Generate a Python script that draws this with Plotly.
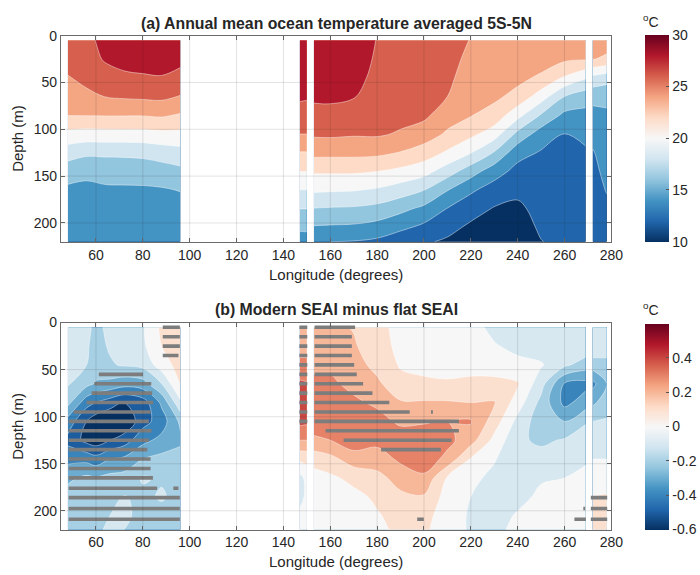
import numpy as np
import plotly.graph_objects as go

# ---------------- data ----------------
depth = [5, 25, 45, 65, 85, 105, 125, 145, 165, 185, 205, 220]

# Panel (a): temperature profiles (one list per longitude, values at `depth`)
lon_io_a = [48, 56, 64, 72, 80, 88, 96]
temp_io = [
    [27.3, 26.9, 25.85, 24.95, 24.05, 21.4, 18.9, 16.9, 15.6, 15.3, 15.0, 14.8],
    [27.4, 27.2, 26.6, 25.5, 24.07, 21.2, 18.4, 16.4, 15.6, 15.3, 15.0, 14.8],
    [28.7, 28.2, 27.17, 26.05, 24.1, 21.27, 18.4, 16.7, 15.7, 15.4, 15.1, 14.9],
    [29.0, 28.6, 27.65, 26.25, 24.1, 21.3, 18.4, 16.8, 15.7, 15.4, 15.1, 14.9],
    [29.1, 28.7, 27.8, 26.35, 24.1, 21.3, 18.5, 16.9, 15.7, 15.3, 15.0, 14.8],
    [29.1, 28.7, 27.9, 26.45, 24.25, 21.5, 18.9, 17.1, 15.8, 15.3, 15.0, 14.7],
    [29.0, 28.5, 27.4, 25.9, 23.8, 21.5, 19.24, 17.5, 16.07, 15.3, 15.0, 14.7],
]
lon_ws = [147, 150]
temp_ws = [
    [29.6, 29.2, 28.8, 28.3, 27.2, 26.0, 23.9, 22.0, 19.95, 18.0, 16.25, 15.3],
    [29.6, 29.2, 28.8, 28.2, 27.2, 26.0, 23.9, 22.0, 19.95, 18.0, 16.3, 15.3],
]
lon_pac = [153, 160, 170, 180, 190, 200, 210, 220, 230, 240, 250, 260, 269]
temp_pac = [
    [29.6, 29.2, 28.8, 28.3, 27.45, 26.3, 24.57, 22.25, 20.29, 17.9, 15.78, 14.1],
    [29.7, 29.3, 28.9, 28.35, 27.45, 26.35, 24.55, 22.25, 20.2, 17.8, 15.7, 14.0],
    [29.5, 29.1, 28.6, 28.1, 27.2, 26.2, 24.55, 22.25, 20.1, 17.7, 15.6, 13.9],
    [27.9, 27.7, 27.5, 27.2, 26.8, 26.25, 24.45, 22.0, 19.75, 17.35, 15.2, 13.6],
    [27.8, 27.6, 27.3, 27.0, 26.6, 25.8, 23.9, 21.5, 19.0, 16.5, 14.4, 12.7],
    [27.6, 27.4, 27.1, 26.75, 26.4, 25.05, 23.05, 20.75, 18.0, 15.5, 13.5, 12.25],
    [27.0, 26.7, 26.45, 26.0, 24.92, 23.7, 21.7, 18.95, 16.07, 13.9, 12.6, 11.7],
    [25.9, 25.5, 25.0, 24.6, 24.1, 22.5, 20.07, 16.88, 14.3, 12.8, 11.6, 11.2],
    [25.5, 25.2, 24.8, 24.4, 23.22, 20.97, 17.83, 14.85, 13.1, 11.85, 11.2, 10.9],
    [25.3, 25.0, 24.5, 23.4, 20.67, 17.45, 14.7, 13.36, 12.45, 11.6, 11.2, 10.9],
    [25.2, 24.9, 23.67, 21.0, 17.8, 15.0, 13.82, 13.4, 13.0, 12.65, 12.25, 11.95],
    [25.0, 24.35, 21.77, 18.0, 15.5, 13.95, 13.6, 13.3, 13.0, 12.8, 12.6, 12.4],
    [25.0, 24.2, 20.23, 16.88, 15.42, 14.55, 13.7, 13.3, 13.0, 12.8, 12.6, 12.4],
]
lon_es = [272, 278]
temp_es = [
    [25.0, 24.1, 19.44, 16.58, 15.4, 14.6, 13.85, 13.5, 13.2, 13.0, 12.8, 12.6],
    [25.0, 23.62, 18.89, 16.48, 15.7, 15.3, 14.9, 14.5, 14.1, 13.6, 13.3, 13.1],
]

# Panel (b): anomaly profiles (modern SEAI minus flat SEAI)
lon_io_b = [48, 56, 60, 66, 72, 80, 88, 96]
anom_io = [
    [-0.06, -0.07, -0.08, -0.09, -0.17, -0.34, -0.43, -0.33, -0.22, -0.16, -0.14, -0.13],
    [-0.08, -0.09, -0.10, -0.17, -0.36, -0.50, -0.53, -0.33, -0.18, -0.15, -0.13, -0.12],
    [-0.12, -0.13, -0.15, -0.21, -0.40, -0.56, -0.56, -0.36, -0.19, -0.14, -0.12, -0.11],
    [-0.08, -0.09, -0.11, -0.23, -0.45, -0.60, -0.50, -0.30, -0.17, -0.13, -0.10, -0.09],
    [-0.05, -0.06, -0.09, -0.26, -0.50, -0.59, -0.45, -0.28, -0.16, -0.095, -0.08, -0.10],
    [-0.01, -0.02, -0.07, -0.24, -0.45, -0.44, -0.33, -0.20, -0.09, -0.12, -0.13, -0.13],
    [0.12, 0.10, 0.05, -0.10, -0.28, -0.35, -0.27, -0.17, -0.11, -0.09, -0.13, -0.13],
    [0.16, 0.15, 0.14, 0.11, -0.02, -0.18, -0.22, -0.16, -0.13, -0.13, -0.13, -0.13],
]
anom_ws = [
    [0.24, 0.27, 0.32, 0.42, 0.46, 0.43, 0.30, 0.12, -0.03, -0.03, 0.02, 0.04],
    [0.24, 0.27, 0.32, 0.41, 0.45, 0.42, 0.30, 0.13, 0.03, 0.02, 0.03, 0.05],
]
anom_pac = [
    [0.22, 0.25, 0.28, 0.32, 0.36, 0.36, 0.28, 0.14, 0.06, 0.04, 0.04, 0.05],
    [0.22, 0.25, 0.28, 0.32, 0.36, 0.37, 0.30, 0.17, 0.08, 0.05, 0.05, 0.06],
    [0.195, 0.21, 0.24, 0.27, 0.32, 0.36, 0.36, 0.25, 0.13, 0.07, 0.05, 0.05],
    [0.14, 0.15, 0.17, 0.22, 0.28, 0.34, 0.33, 0.25, 0.17, 0.12, 0.09, 0.08],
    [0.06, 0.07, 0.09, 0.13, 0.21, 0.28, 0.36, 0.32, 0.24, 0.18, 0.14, 0.12],
    [0.03, 0.05, 0.07, 0.12, 0.21, 0.29, 0.36, 0.36, 0.28, 0.19, 0.14, 0.12],
    [0.03, 0.05, 0.07, 0.11, 0.21, 0.30, 0.33, 0.27, 0.09, 0.06, 0.04, 0.04],
    [0.04, 0.05, 0.07, 0.12, 0.20, 0.31, 0.24, 0.09, 0.03, 0.0, -0.01, -0.01],
    [-0.03, 0.01, 0.05, 0.13, 0.21, 0.15, 0.07, 0.01, -0.03, -0.05, -0.04, -0.02],
    [-0.06, -0.03, 0.03, 0.11, 0.05, -0.03, -0.08, -0.09, -0.07, -0.03, 0.01, 0.02],
    [-0.07, -0.05, 0.01, -0.06, -0.13, -0.16, -0.12, -0.06, -0.01, 0.02, 0.03, 0.03],
    [-0.07, -0.05, -0.08, -0.31, -0.33, -0.20, -0.09, -0.03, 0.0, 0.02, 0.02, 0.02],
    [-0.06, -0.03, -0.15, -0.33, -0.25, -0.11, -0.05, -0.01, 0.02, 0.03, 0.04, 0.05],
]
anom_es = [
    [-0.05, -0.02, -0.15, -0.33, -0.22, -0.10, -0.05, 0.0, 0.04, 0.10, 0.12, 0.12],
    [-0.05, -0.05, -0.13, -0.20, -0.15, -0.09, -0.05, 0.0, 0.05, 0.11, 0.12, 0.12],
]

# significance marks in panel (b): depth, start longitude, end longitude
stip_depth = [5, 15, 25, 35, 55, 65, 75, 85, 95, 105, 115, 125, 135, 145, 155, 165, 176, 176, 186, 197.5, 209,
              5, 15, 25, 35, 45, 55, 65, 75, 85, 95, 105,
              5, 15, 25, 35, 45, 55, 65, 75, 85, 95, 95, 105, 115, 125, 135, 209,
              186, 197.5, 197.5, 209, 209]
stip_lon0 = [88.5, 88.5, 88.5, 88.5, 61.2, 59.3, 58.1, 56.0, 50.5, 48.3, 48.3, 48.3, 48.3, 48.3, 48.3, 48.3, 48.3, 93.0, 48.3, 48.3, 48.3,
             146.8, 146.8, 146.8, 146.8, 146.8, 146.8, 146.8, 146.8, 146.8, 146.8, 146.8,
             153.3, 153.3, 153.3, 153.3, 153.3, 153.3, 153.3, 153.3, 153.3, 153.3, 203.0, 153.3, 158.0, 165.7, 181.7, 197.1,
             271.2, 271.2, 268.0, 264.2, 271.2]
stip_lon1 = [95.8, 95.8, 95.8, 95.2, 80.1, 83.6, 84.0, 84.4, 83.3, 82.6, 83.7, 82.6, 81.9, 83.3, 83.3, 84.3, 86.1, 95.2, 95.8, 95.8, 95.8,
             150.2, 150.2, 150.2, 150.2, 150.2, 150.2, 150.2, 150.2, 150.2, 150.2, 150.2,
             170.6, 169.2, 169.2, 169.2, 170.2, 171.3, 174.0, 178.0, 185.2, 193.9, 203.8, 214.9, 214.9, 211.8, 207.2, 199.9,
             278.2, 278.2, 268.8, 269.1, 278.2]

x_ticks = [60, 80, 100, 120, 140, 160, 180, 200, 220, 240, 260, 280]
y_ticks = [0, 50, 100, 150, 200]
cb_a_ticks = [10, 15, 20, 25, 30]
cb_b_ticks = [-0.6, -0.4, -0.2, 0, 0.2, 0.4]
cb_b_text = ["-0.6", "-0.4", "-0.2", "0", "0.2", "0.4"]

# ---------------- styling helpers ----------------
RDBU = ['#053061', '#2166ac', '#4393c3', '#92c5de', '#d1e5f0', '#f7f7f7',
        '#fddbc7', '#f4a582', '#d6604d', '#b2182b', '#67001f']
RGB = [tuple(int(h[i:i + 2], 16) for i in (1, 3, 5)) for h in RDBU]


def cmap(s):
    s = min(max(s, 0.0), 1.0)
    p = s * (len(RGB) - 1)
    i = min(int(np.floor(p)), len(RGB) - 2)
    f = p - i
    c = [round(RGB[i][k] + (RGB[i + 1][k] - RGB[i][k]) * f) for k in range(3)]
    return 'rgb(%d,%d,%d)' % tuple(c)


def band_scale(vmin, vmax, start, size, nlev):
    # each filled band takes the colour of its lower contour level (MATLAB contourf style)
    cols = [cmap((start + i * size - vmin) / (vmax - vmin)) for i in range(nlev)]
    return [[0, cols[0]]] + [[(i + 1) / nlev, cols[i]] for i in range(nlev)]


cont_scale = [[i / (len(RDBU) - 1), c] for i, c in enumerate(RDBU)]
scale_a = band_scale(10, 30, 10, 2, 11)
scale_b = band_scale(-0.6, 0.6, -0.6, 0.1, 13)

FONT = "Liberation Sans, Arial, Helvetica, sans-serif"
TXT = '#262626'

fig = go.Figure()


def add_contour(x, prof, xa, ya, scale, start, end, size):
    z = np.array(prof).T
    fig.add_trace(go.Contour(
        x=x, y=depth, z=z, xaxis=xa, yaxis=ya, autocontour=False,
        contours=dict(start=start, end=end, size=size, coloring='fill', showlines=True),
        colorscale=scale, showscale=False,
        line=dict(color='rgba(255,255,255,0.55)', width=0.8, smoothing=1.0),
        hoverinfo='skip'))


for x, p in [(lon_io_a, temp_io), (lon_ws, temp_ws), (lon_pac, temp_pac), (lon_es, temp_es)]:
    add_contour(x, p, 'x', 'y', scale_a, 10, 30, 2)
for x, p in [(lon_io_b, anom_io), (lon_ws, anom_ws), (lon_pac, anom_pac), (lon_es, anom_es)]:
    add_contour(x, p, 'x2', 'y2', scale_b, -0.6, 0.6, 0.1)

# significance dashes
sx, sy = [], []
for d, a, b in zip(stip_depth, stip_lon0, stip_lon1):
    sx += [a, b, None]
    sy += [d, d, None]
fig.add_trace(go.Scatter(x=sx, y=sy, xaxis='x2', yaxis='y2', mode='lines',
                         line=dict(color='#7d7d7d', width=3.6), hoverinfo='skip', showlegend=False))

# continuous colourbars
PA = (28, 237)   # panel a top/bottom pixel
PB = (319, 529)
H, W = 575, 700


def cbar(vmin, vmax, top, bottom, tickvals, ticktext, xa, ya):
    fig.add_trace(go.Scatter(
        x=[150], y=[-100], xaxis=xa, yaxis=ya, mode='markers', showlegend=False, hoverinfo='skip',
        marker=dict(size=1, color=[vmin], cmin=vmin, cmax=vmax, colorscale=cont_scale, showscale=True,
                    colorbar=dict(x=657 / W, xanchor='left', xpad=0, ypad=0,
                                  y=1 - top / H, yanchor='top', len=(bottom - top) / H, lenmode='fraction',
                                  thickness=24, outlinewidth=0, ticks='inside', ticklen=3,
                                  tickcolor='#555', tickvals=tickvals, ticktext=ticktext,
                                  tickfont=dict(size=14, color=TXT, family=FONT)))))


cbar(10, 30, 27, 237, cb_a_ticks, [str(v) for v in cb_a_ticks], 'x', 'y')
cbar(-0.6, 0.6, 320, 529, cb_b_ticks, cb_b_text, 'x2', 'y2')

axis_common = dict(showline=True, linecolor='#6b6b6b', linewidth=1, mirror='ticks', ticks='inside',
                   ticklen=4, tickcolor='#6b6b6b', showgrid=False, zeroline=False,
                   tickfont=dict(size=14, color=TXT, family=FONT))
xd = [62 / W, 623 / W]
fig.update_layout(
    width=W, height=H, margin=dict(l=0, r=0, t=0, b=0),
    paper_bgcolor='white', plot_bgcolor='white', showlegend=False,
    font=dict(family=FONT, color=TXT),
    xaxis=dict(domain=xd, range=[45, 280], tickvals=x_ticks, anchor='y', **axis_common),
    yaxis=dict(domain=[1 - PA[1] / H, 1 - PA[0] / H], range=[220, 0], tickvals=y_ticks, anchor='x', **axis_common),
    xaxis2=dict(domain=xd, range=[45, 280], tickvals=x_ticks, anchor='y2', **axis_common),
    yaxis2=dict(domain=[1 - PB[1] / H, 1 - PB[0] / H], range=[220, 0], tickvals=y_ticks, anchor='x2', **axis_common),
)

# grid lines drawn above the filled contours (MATLAB layer 'top')
shapes = []
for xa, ya in [('x', 'y'), ('x2', 'y2')]:
    for t in x_ticks[:-1]:
        shapes.append(dict(type='line', xref=xa, yref=ya, x0=t, x1=t, y0=0, y1=220, layer='above',
                           line=dict(color='rgba(38,38,38,0.13)', width=1)))
    for t in y_ticks[1:]:
        shapes.append(dict(type='line', xref=xa, yref=ya, x0=45, x1=280, y0=t, y1=t, layer='above',
                           line=dict(color='rgba(38,38,38,0.13)', width=1)))
fig.update_layout(shapes=shapes)

xc = (xd[0] + xd[1]) / 2
ann = [
    dict(text='<b>(a) Annual mean ocean temperature averaged 5S-5N</b>', x=xc, y=1 - 16 / H, font=dict(size=15.8)),
    dict(text='<b>(b) Modern SEAI minus flat SEAI</b>', x=xc, y=1 - 306 / H, font=dict(size=15.8)),
    dict(text='Longitude (degrees)', x=xc, y=1 - 270 / H, font=dict(size=15)),
    dict(text='Longitude (degrees)', x=xc, y=1 - 561 / H, font=dict(size=15)),
    dict(text='Depth (m)', x=17 / W, y=1 - 132 / H, textangle=-90, font=dict(size=15)),
    dict(text='Depth (m)', x=17 / W, y=1 - 424 / H, textangle=-90, font=dict(size=15)),
    dict(text='<sup>o</sup>C', x=663 / W, y=1 - 13 / H, font=dict(size=14)),
    dict(text='<sup>o</sup>C', x=663 / W, y=1 - 305 / H, font=dict(size=14)),
]
for a in ann:
    a.update(xref='paper', yref='paper', showarrow=False, xanchor='center', yanchor='middle')
    a['font'].update(family=FONT, color=TXT)
fig.update_layout(annotations=ann)

fig.write_html("out.html")
